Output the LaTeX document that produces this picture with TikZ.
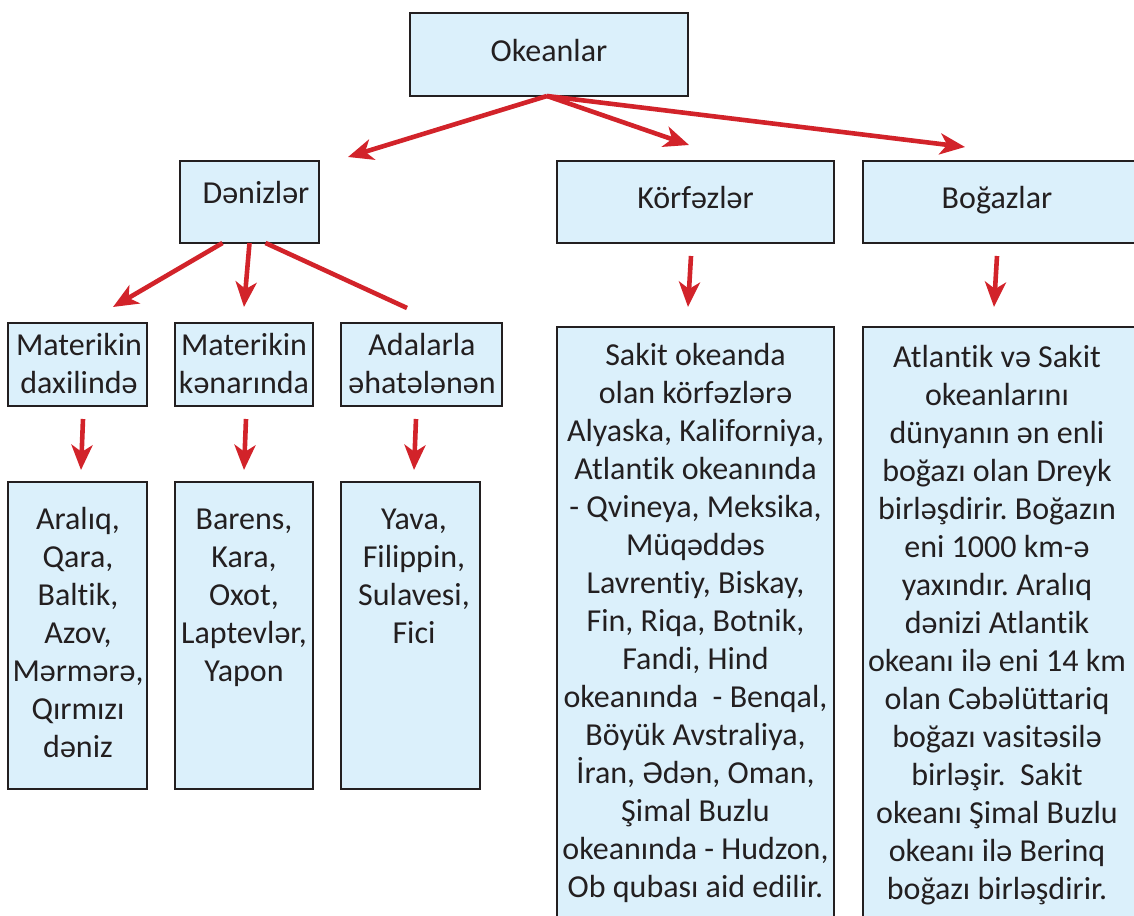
\documentclass[tikz,border=0pt]{standalone}
\usepackage{fontspec}
\setmainfont[Ligatures=NoCommon]{Carlito}
\frenchspacing
\usetikzlibrary{arrows.meta}
\definecolor{boxfill}{HTML}{DBF0FB}
\definecolor{boxline}{HTML}{231F20}
\definecolor{arrred}{HTML}{D2232A}
\begin{document}
\begin{tikzpicture}[x=1pt,y=-1pt,
  box/.style={draw=boxline, line width=2.6pt, fill=boxfill, inner sep=0pt, outer sep=0pt, anchor=north west},
  lbl/.style={font=\fontsize{32}{38}\selectfont, text=boxline, inner sep=0pt, anchor=base, align=center},
  redarrow/.style={draw=arrred, line width=4.6pt, -{Stealth[length=25pt,width=21pt,inset=7pt]}},
  redline/.style={draw=arrred, line width=4.6pt}]
\useasboundingbox (0,0) rectangle (1134,915);
\clip (0,0) rectangle (1134,915);
\fill[white] (0,0) rectangle (1134,915);
% boxes
\node[box, minimum width=278pt, minimum height=83pt] (ok) at (410,13) {};
\node[box, minimum width=139pt, minimum height=82pt] (den) at (180,161) {};
\node[box, minimum width=277pt, minimum height=82pt] (kor) at (557,161) {};
\node[box, minimum width=290pt, minimum height=82pt] (bog) at (863,161) {};
\node[box, minimum width=139pt, minimum height=83pt] (m1) at (8,323) {};
\node[box, minimum width=138pt, minimum height=83pt] (m2) at (175,323) {};
\node[box, minimum width=161pt, minimum height=83pt] (m3) at (341,323) {};
\node[box, minimum width=139pt, minimum height=307pt] (l1) at (8,482) {};
\node[box, minimum width=138pt, minimum height=307pt] (l2) at (175,482) {};
\node[box, minimum width=139pt, minimum height=307pt] (l3) at (341,482) {};
\node[box, minimum width=277pt, minimum height=620pt] (kt) at (557,327) {};
\node[box, minimum width=290pt, minimum height=620pt] (bt) at (863,327) {};
% labels (anchor base = baseline of the last line)
\node[lbl] (okl) at (549,62) {Okeanlar};
\node[lbl] (denl) at (256,203) {Dənizlər};
\node[lbl] (korl) at (695.5,208) {Körfəzlər};
\node[lbl] (bogl) at (997,208) {Boğazlar};
\node[lbl] (m1l) at (79,393) {Materikin\\daxilində};
\node[lbl] (m2l) at (244,393) {Materikin\\kənarında};
\node[lbl] (m3l) at (422,393) {Adalarla\\əhatələnən};
\node[lbl] (l1l) at (78,757) {Aralıq,\\Qara,\\Baltik,\\Azov,\\Mərmərə,\\Qırmızı\\dəniz};
\node[lbl] (l2l) at (244,681) {Barens,\\Kara,\\Oxot,\\Laptevlər,\\Yapon};
\node[lbl] (l3l) at (414,643) {Yava,\\Filippin,\\Sulavesi,\\Fici};
\node[lbl] (ktl) at (695.5,897) {Sakit okeanda\\olan körfəzlərə\\Alyaska, Kaliforniya,\\Atlantik okeanında\\- Qvineya, Meksika,\\Müqəddəs\\Lavrentiy, Biskay,\\Fin, Riqa, Botnik,\\Fandi, Hind\\okeanında ~- Benqal,\\Böyük Avstraliya,\\İran, Ədən, Oman,\\Şimal Buzlu\\okeanında - Hudzon,\\Ob qubası aid edilir.};
\node[lbl] (btl) at (997,899) {Atlantik və Sakit\\okeanlarını\\dünyanın ən enli\\boğazı olan Dreyk\\birləşdirir. Boğazın\\eni 1000 km-ə\\yaxındır. Aralıq\\dənizi Atlantik\\okeanı ilə eni 14 km\\olan Cəbəlüttariq\\boğazı vasitəsilə\\birləşir. ~Sakit\\okeanı Şimal Buzlu\\okeanı ilə Berinq\\boğazı birləşdirir.};
% arrow end points
\coordinate (t1) at (348,157);
\coordinate (t2) at (689,145);
\coordinate (t3) at (965,147);
\coordinate (t4) at (113,307);
\coordinate (t5) at (244,307);
\coordinate (e6) at (407,308);
\coordinate (s7) at (83,419);  \coordinate (t7) at (81,470);
\coordinate (s8) at (246,419); \coordinate (t8) at (244,470);
\coordinate (s9) at (416,419); \coordinate (t9) at (414,470);
\coordinate (s10) at (691,256); \coordinate (t10) at (688,307);
\coordinate (s11) at (997,256); \coordinate (t11) at (994,307);
% arrows
\draw[redarrow] ([xshift=-2pt]ok.south) -- (t1);
\draw[redarrow] ([xshift=-2pt]ok.south) -- (t2);
\draw[redarrow] ([xshift=-2pt]ok.south) -- (t3);
\draw[redarrow] ([xshift=-27pt]den.south) -- (t4);
\draw[redarrow] (den.south) -- (t5);
\draw[redline] ([xshift=16pt]den.south) -- (e6);
\draw[redarrow] (s7) -- (t7);
\draw[redarrow] (s8) -- (t8);
\draw[redarrow] (s9) -- (t9);
\draw[redarrow] (s10) -- (t10);
\draw[redarrow] (s11) -- (t11);
\end{tikzpicture}
\end{document}
